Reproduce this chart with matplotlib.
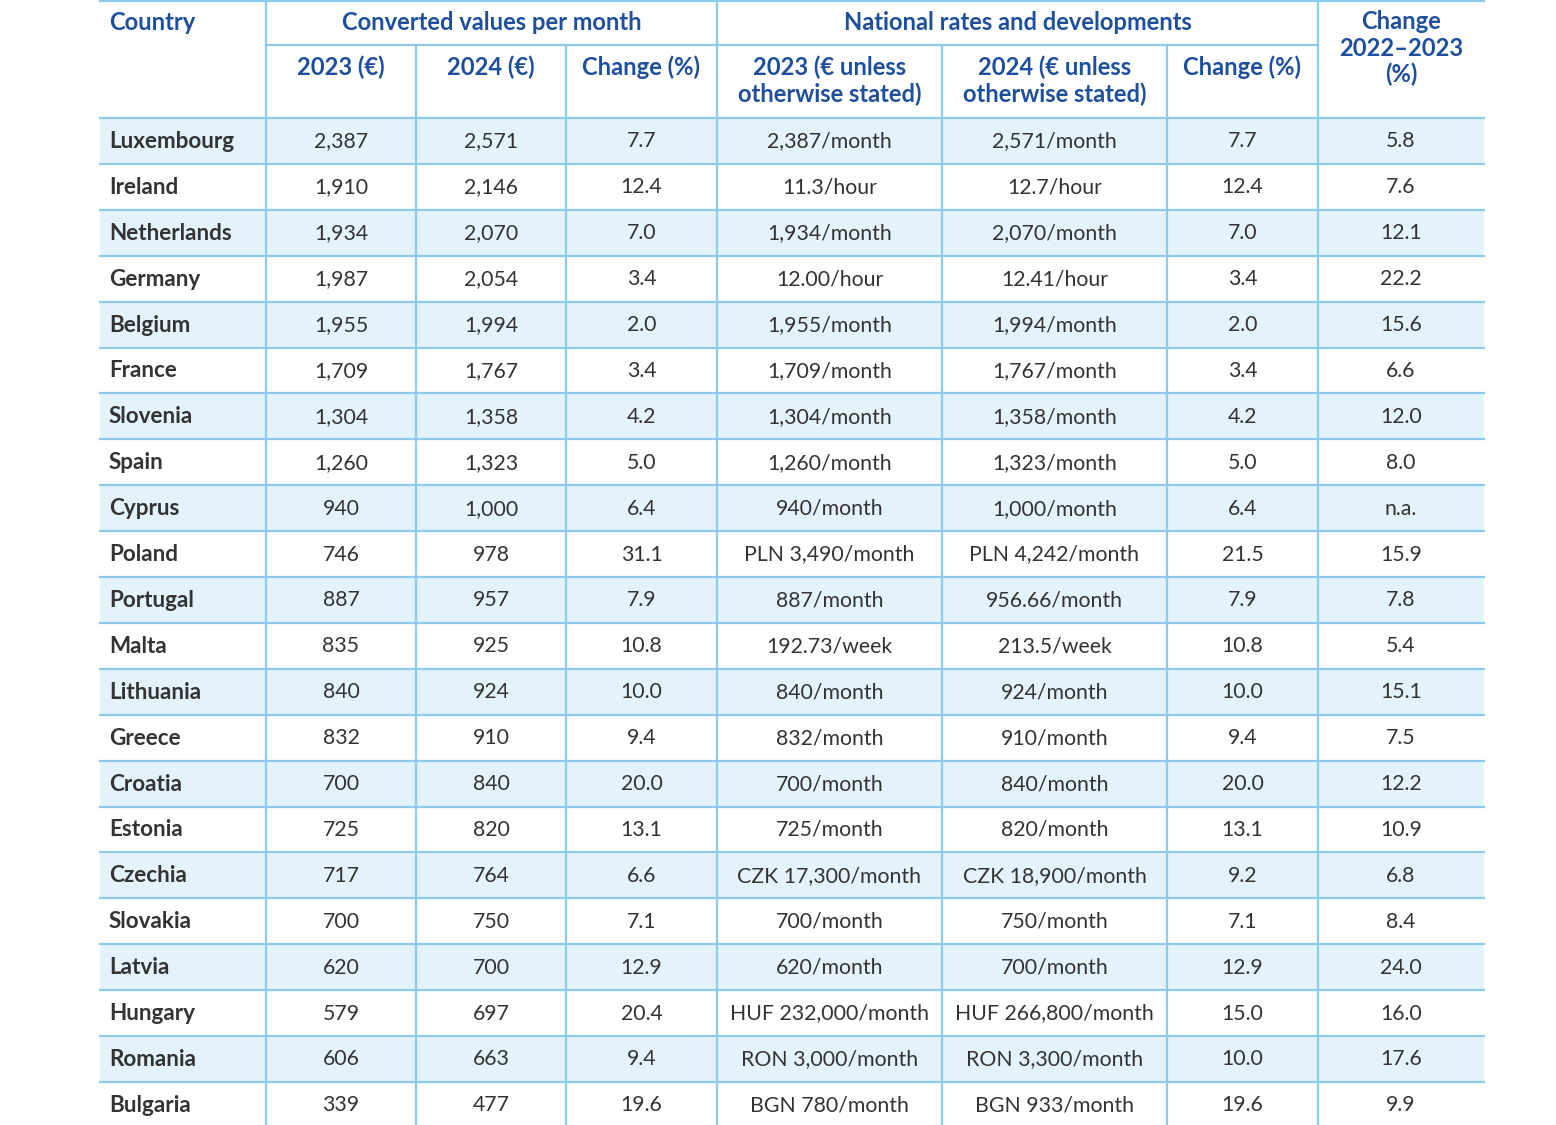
import matplotlib
matplotlib.use("Agg")
import matplotlib.pyplot as plt
from matplotlib.patches import Rectangle

countries = ["Luxembourg", "Ireland", "Netherlands", "Germany", "Belgium", "France",
             "Slovenia", "Spain", "Cyprus", "Poland", "Portugal", "Malta", "Lithuania",
             "Greece", "Croatia", "Estonia", "Czechia", "Slovakia", "Latvia", "Hungary",
             "Romania", "Bulgaria"]
conv_2023 = ["2,387", "1,910", "1,934", "1,987", "1,955", "1,709", "1,304", "1,260", "940",
             "746", "887", "835", "840", "832", "700", "725", "717", "700", "620", "579",
             "606", "339"]
conv_2024 = ["2,571", "2,146", "2,070", "2,054", "1,994", "1,767", "1,358", "1,323", "1,000",
             "978", "957", "925", "924", "910", "840", "820", "764", "750", "700", "697",
             "663", "477"]
conv_change = ["7.7", "12.4", "7.0", "3.4", "2.0", "3.4", "4.2", "5.0", "6.4", "31.1", "7.9",
               "10.8", "10.0", "9.4", "20.0", "13.1", "6.6", "7.1", "12.9", "20.4", "9.4", "19.6"]
nat_2023 = ["2,387/month", "11.3/hour", "1,934/month", "12.00/hour", "1,955/month",
            "1,709/month", "1,304/month", "1,260/month", "940/month", "PLN 3,490/month",
            "887/month", "192.73/week", "840/month", "832/month", "700/month", "725/month",
            "CZK 17,300/month", "700/month", "620/month", "HUF 232,000/month",
            "RON 3,000/month", "BGN 780/month"]
nat_2024 = ["2,571/month", "12.7/hour", "2,070/month", "12.41/hour", "1,994/month",
            "1,767/month", "1,358/month", "1,323/month", "1,000/month", "PLN 4,242/month",
            "956.66/month", "213.5/week", "924/month", "910/month", "840/month", "820/month",
            "CZK 18,900/month", "750/month", "700/month", "HUF 266,800/month",
            "RON 3,300/month", "BGN 933/month"]
nat_change = ["7.7", "12.4", "7.0", "3.4", "2.0", "3.4", "4.2", "5.0", "6.4", "21.5", "7.9",
              "10.8", "10.0", "9.4", "20.0", "13.1", "9.2", "7.1", "12.9", "15.0", "10.0", "19.6"]
change_2022_2023 = ["5.8", "7.6", "12.1", "22.2", "15.6", "6.6", "12.0", "8.0", "n.a.", "15.9",
                    "7.8", "5.4", "15.1", "7.5", "12.2", "10.9", "6.8", "8.4", "24.0", "16.0",
                    "17.6", "9.9"]

group_headers = ["Converted values per month", "National rates and developments"]
sub_headers = ["2023 (€)", "2024 (€)", "Change (%)",
               "2023 (€ unless\notherwise stated)", "2024 (€ unless\notherwise stated)",
               "Change (%)"]
first_header = "Country"
last_header = "Change\n2022\u20132023\n(%)"

# ---- layout (pixels) ----
W, H = 1556, 1125
col_edges = [100, 266, 416, 566, 717, 942, 1167, 1318, 1484]
hdr1_bottom = 45
hdr_bottom = 118
row_h = 45.9

line_c = "#8dcbec"
fill_c = "#e3f2fb"
head_c = "#1d4f9e"
body_c = "#333333"
FONT = ["Lato", "DejaVu Sans"]
fs_body = 15.3
fs_country = 16.2
fs_head = 17.1

fig = plt.figure(figsize=(W / 100, H / 100), dpi=100)
ax = fig.add_axes([0, 0, 1, 1])
ax.set_xlim(0, W)
ax.set_ylim(H, 0)
ax.axis("off")

L, R = col_edges[0], col_edges[-1]
n = len(countries)

# row fills
for i in range(n):
    top = hdr_bottom + i * row_h
    if i % 2 == 0:
        ax.add_patch(Rectangle((L, top), R - L, row_h, facecolor=fill_c, edgecolor="none", zorder=1))

lw = 1.6
# horizontal lines
ax.plot([L, R], [0.8, 0.8], color=line_c, lw=lw, zorder=2)
ax.plot([col_edges[1], col_edges[7]], [hdr1_bottom, hdr1_bottom], color=line_c, lw=lw, zorder=2)
for i in range(n):
    y = hdr_bottom + i * row_h
    ax.plot([L, R], [y, y], color=line_c, lw=lw, zorder=2)
# vertical lines
bottom = H + 5
for j, x in enumerate(col_edges[1:-1], start=1):
    y0 = 0 if j in (1, 4, 7) else hdr1_bottom
    ax.plot([x, x], [y0, bottom], color=line_c, lw=lw, zorder=2)

# headers
ax.text(109, 22, first_header, ha="left", va="center", fontsize=fs_head,
        fontweight="bold", color=head_c, family=FONT)
ax.text((col_edges[1] + col_edges[4]) / 2, 22, group_headers[0], ha="center", va="center",
        fontsize=fs_head, fontweight="bold", color=head_c, family=FONT)
ax.text((col_edges[4] + col_edges[7]) / 2, 22, group_headers[1], ha="center", va="center",
        fontsize=fs_head, fontweight="bold", color=head_c, family=FONT)
for k, lab in enumerate(last_header.split("\n")):
    ax.text((col_edges[7] + col_edges[8]) / 2, 21.5 + k * 26.5, lab, ha="center", va="center",
            fontsize=fs_head, fontweight="bold", color=head_c, family=FONT)
for c, lab in enumerate(sub_headers):
    cx = (col_edges[c + 1] + col_edges[c + 2]) / 2
    for k, line in enumerate(lab.split("\n")):
        ax.text(cx, 67.5 + k * 26.5, line, ha="center", va="center", fontsize=fs_head,
                fontweight="bold", color=head_c, family=FONT)

# body
columns = [conv_2023, conv_2024, conv_change, nat_2023, nat_2024, nat_change, change_2022_2023]
for i in range(n):
    cy = hdr_bottom + i * row_h + row_h / 2 + 0.5
    ax.text(109, cy, countries[i], ha="left", va="center", fontsize=fs_country,
            fontweight="bold", color=body_c, family=FONT)
    for c, col in enumerate(columns):
        cx = (col_edges[c + 1] + col_edges[c + 2]) / 2
        ax.text(cx, cy, col[i], ha="center", va="center", fontsize=fs_body,
                color=body_c, family=FONT)

fig.savefig("out.png", dpi=100)
